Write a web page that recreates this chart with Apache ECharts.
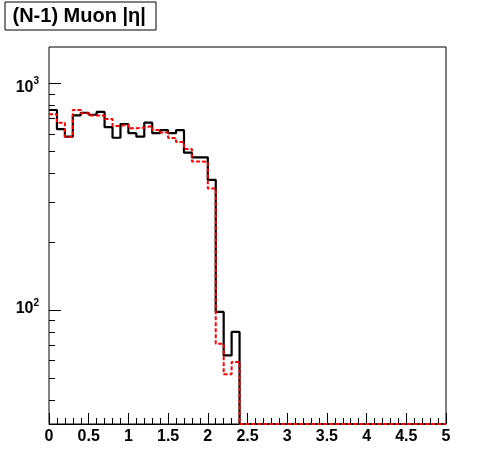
<!DOCTYPE html>
<html><head><meta charset="utf-8">
<script src="https://cdn.jsdelivr.net/npm/echarts@6/dist/echarts.min.js"></script>
<style>html,body{margin:0;padding:0;background:#fff}#c{width:496px;height:472px}</style>
</head><body><div id="c"></div>
<script>
const TITLE = '(N-1) Muon |η|';
const BIN_LOW = 0, BIN_WIDTH = 0.1;
// black solid histogram (bin contents, 50 bins of 0.1 from 0 to 5)
const blackCounts = [762,627,581,722,741,726,747,640,575,661,
                     602,581,670,602,621,602,621,494,471,471,
                     375,98,63,80,0,0,0,0,0,0,
                     0,0,0,0,0,0,0,0,0,0,
                     0,0,0,0,0,0,0,0,0,0];
// red dashed histogram
const redCounts = [730,670,580,762,737,720,720,696,648,657,
                   633,637,648,622,607,574,551,513,452,450,
                   343,71,52,59,0,0,0,0,0,0,
                   0,0,0,0,0,0,0,0,0,0,
                   0,0,0,0,0,0,0,0,0,0];
const X_MIN = 0, X_MAX = 5, X_INTERVAL = 0.5;
const Y_MIN = 31.4, Y_MAX = 1445;
const yMajorTicks = [100, 1000];
const yMinorTicks = [40,50,60,70,80,90,200,300,400,500,600,700,800,900];
const yTickLabels = [{value:100, base:'10', exp:'2'}, {value:1000, base:'10', exp:'3'}];

function stepData(counts){
  const pts = counts.map((c,i)=>[BIN_LOW + i*BIN_WIDTH, c>0 ? c : Y_MIN]);
  const last = counts[counts.length-1];
  pts.push([BIN_LOW + counts.length*BIN_WIDTH, last>0 ? last : Y_MIN]);
  return pts;
}
const FONT = 'Liberation Sans';
const chart = echarts.init(document.getElementById('c'), null, {renderer:'canvas'});
chart.setOption({
  animation: false,
  backgroundColor: '#fff',
  title: {
    text: TITLE, left: 4.5, top: 2.5, padding: [4,10,4,8],
    borderColor: '#000', borderWidth: 1, backgroundColor: '#fff',
    textStyle: {fontSize: 20, fontWeight: 'bold', fontFamily: FONT, color: '#000', lineHeight: 19}
  },
  grid: {left: 49, top: 47, width: 397, height: 377, show: true, borderColor: '#000', borderWidth: 1, backgroundColor: 'transparent'},
  xAxis: {
    type: 'value', min: X_MIN, max: X_MAX, interval: X_INTERVAL,
    axisLine: {show: true, lineStyle: {color: '#000', width: 1}},
    axisTick: {show: true, inside: true, length: 11, lineStyle: {color: '#000', width: 1}},
    minorTick: {show: true, splitNumber: 5, length: 6, lineStyle: {color: '#000', width: 1}},
    splitLine: {show: false}, minorSplitLine: {show: false},
    axisLabel: {color: '#000', fontSize: 16, fontWeight: 'bold', fontFamily: FONT, margin: 5}
  },
  yAxis: {
    type: 'log', logBase: 10, min: Y_MIN, max: Y_MAX,
    axisLine: {show: false}, axisTick: {show: false}, axisLabel: {show: false},
    splitLine: {show: false}, minorTick: {show: false}
  },
  series: [
    {
      type: 'line', step: 'end', showSymbol: false, clip: false, z: 3,
      data: stepData(blackCounts),
      lineStyle: {color: '#000', width: 2.2}
    },
    {
      type: 'line', step: 'end', showSymbol: false, clip: false, z: 4,
      data: stepData(redCounts),
      lineStyle: {color: '#ff0000', width: 2, type: [4,2]}
    },
    {
      type: 'custom', clip: false, z: 5, silent: true,
      data: yMajorTicks.map(v=>[X_MIN, v, 1]).concat(yMinorTicks.map(v=>[X_MIN, v, 0])),
      renderItem: function(params, api){
        const p = api.coord([X_MIN, api.value(1)]);
        const len = api.value(2) === 1 ? 12 : 6;
        const y = Math.round(p[1]) + 0.5;
        return {type: 'line', shape: {x1: p[0], y1: y, x2: p[0] + len, y2: y}, style: {stroke: '#000', lineWidth: 1}};
      }
    },
    {
      type: 'custom', clip: false, z: 5, silent: true,
      data: yTickLabels.map(t=>[X_MIN, t.value]),
      renderItem: function(params, api){
        const t = yTickLabels[params.dataIndex];
        const p = api.coord([X_MIN, api.value(1)]);
        const dy = t.value === 1000 ? 4 : -1;
        const cy = p[1] + dy;
        return {type: 'group', children: [
          {type: 'text', x: p[0] - 15.5, y: cy, style: {text: t.base, fill: '#000', fontSize: 16, fontWeight: 'bold', fontFamily: FONT, align: 'right', verticalAlign: 'middle'}},
          {type: 'text', x: p[0] - 15.5, y: cy - 5.5, style: {text: t.exp, fill: '#000', fontSize: 10, fontWeight: 'bold', fontFamily: FONT, align: 'left', verticalAlign: 'middle'}}
        ]};
      }
    }
  ]
});
</script></body></html>
